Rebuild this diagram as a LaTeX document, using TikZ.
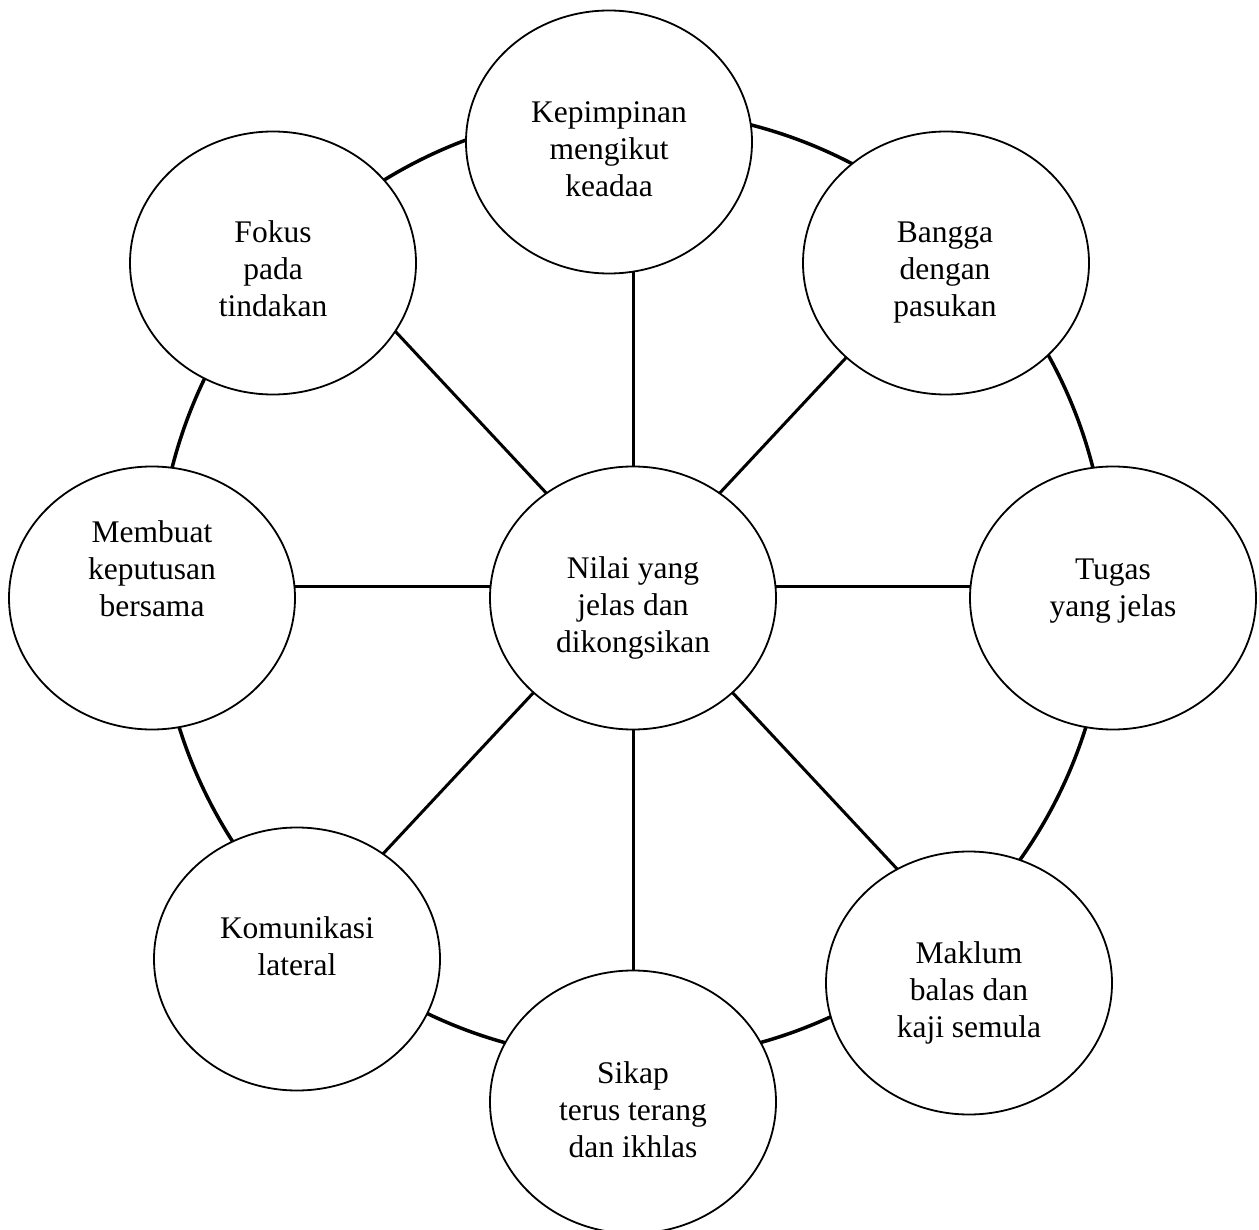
\documentclass[tikz,border=0pt]{standalone}
\usepackage{fontspec}
\setmainfont{Liberation Serif}
\usetikzlibrary{shapes.geometric}
\tikzset{
  bubble/.style={draw, line width=1.8pt, fill=white, shape=ellipse, minimum width=286pt, minimum height=263pt, inner sep=0pt},
  spoke/.style={line width=3pt},
  ringline/.style={line width=3.5pt},
  lbl/.style={inner sep=0pt, anchor=base, font=\fontsize{31.5}{37}\selectfont},
}
\newcommand{\lines}[1]{\begin{tabular}[t]{@{}c@{}}#1\end{tabular}}
\begin{document}
\begin{tikzpicture}[x=1pt,y=-1pt]
\useasboundingbox (0,0) rectangle (1259,1230);
\fill[white] (0,0) rectangle (1259,1230);
% hub and spoke ends
\coordinate (hub) at (633,586);
\coordinate (ringc) at (632.5,585);
\coordinate (eT) at (633,142);
\coordinate (eB) at (633,1102);
\coordinate (eL) at (152,586);
\coordinate (eR) at (1113,586);
\coordinate (eTL) at (360,293.5);
\coordinate (eTR) at (906,293.5);
\coordinate (eBL) at (360,878.5);
\coordinate (eBR) at (906,878.5);
% ring
\draw[ringline] (ringc) circle[radius=475];
% spokes
\foreach \e in {eT,eB,eL,eR,eTL,eTR,eBL,eBR} \draw[spoke] (hub) -- (\e);
% bubbles
\node[bubble] (c)  at (633,598) {};
\node[bubble] (t)  at (609,142) {};
\node[bubble] (tr) at (946,263) {};
\node[bubble] (r)  at (1113,598) {};
\node[bubble] (br) at (969,983) {};
\node[bubble] (b)  at (633,1102) {};
\node[bubble] (bl) at (297,959) {};
\node[bubble] (l)  at (152,598) {};
\node[bubble] (tl) at (273,263) {};
% labels
\node[lbl] (tc)  at (633,578)  {\lines{Nilai yang\\jelas dan\\dikongsikan}};
\node[lbl] (tt)  at (609,123)  {\lines{Kepimpinan\\mengikut\\keadaa}};
\node[lbl] (ttr) at (945,243)  {\lines{Bangga\\dengan\\pasukan}};
\node[lbl] (tr2) at (1113,579) {\lines{Tugas\\yang jelas}};
\node[lbl] (tbr) at (969,963)  {\lines{Maklum\\balas dan\\kaji semula}};
\node[lbl] (tb)  at (633,1083) {\lines{Sikap\\terus terang\\dan ikhlas}};
\node[lbl] (tbl) at (297,938)  {\lines{Komunikasi\\lateral}};
\node[lbl] (tl2) at (152,542)  {\lines{Membuat\\keputusan\\bersama}};
\node[lbl] (ttl) at (273,243)  {\lines{Fokus\\pada\\tindakan}};
\end{tikzpicture}
\end{document}
